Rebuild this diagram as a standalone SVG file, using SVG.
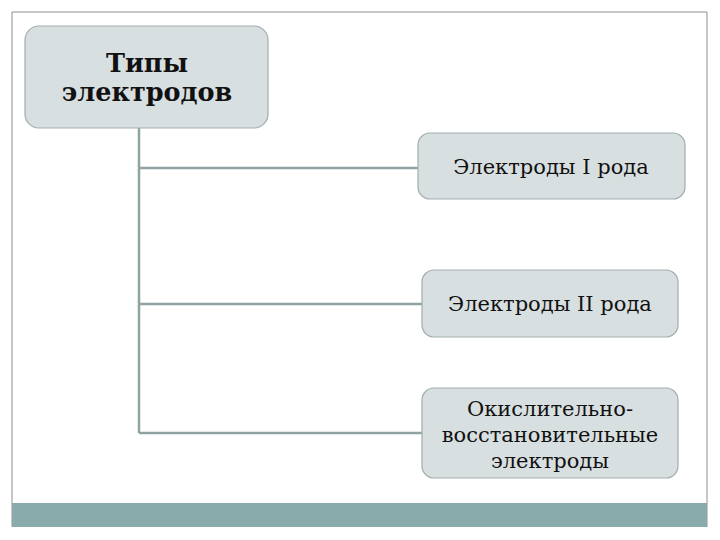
<svg xmlns="http://www.w3.org/2000/svg" width="720" height="540" viewBox="0 0 720 540">
<style>
.box{fill:#D8DFE0;stroke:#A3ADAD;stroke-width:1.2}
.t{font-family:"DejaVu Serif","Liberation Serif",serif;font-size:21px;fill:#111;text-anchor:middle}
.tb{font-family:"DejaVu Serif","Liberation Serif",serif;font-size:25.5px;font-weight:bold;fill:#111;text-anchor:middle}
.c{stroke:#8FA3A3;stroke-width:2.5;fill:none}
</style>
<rect x="0" y="0" width="720" height="540" fill="#fff"/>
<g id="frame">
<path d="M12 527 V12 H707 V527" fill="none" stroke="#8E8E8E" stroke-width="1"/>
<rect x="12" y="503" width="695" height="24" fill="#8AABAB"/>
</g>
<g id="connectors">
<path class="c" d="M139 128 V433"/>
<path class="c" d="M139 168 H418"/>
<path class="c" d="M139 304 H422"/>
<path class="c" d="M139 433 H422"/>
</g>
<g id="root">
<rect class="box" x="25" y="26" width="243" height="102" rx="14"/>
<text class="tb" x="147" y="72">Типы</text>
<text class="tb" x="147" y="101">электродов</text>
</g>
<g id="n1">
<rect class="box" x="418" y="133" width="267" height="66" rx="12"/>
<text class="t" x="551" y="174">Электроды I рода</text>
</g>
<g id="n2">
<rect class="box" x="422" y="270" width="256" height="67" rx="12"/>
<text class="t" x="550" y="311">Электроды II рода</text>
</g>
<g id="n3">
<rect class="box" x="422" y="388" width="256" height="90" rx="12"/>
<text class="t" x="550" y="416">Окислительно-</text>
<text class="t" x="550" y="442">восстановительные</text>
<text class="t" x="550" y="468">электроды</text>
</g>
</svg>
